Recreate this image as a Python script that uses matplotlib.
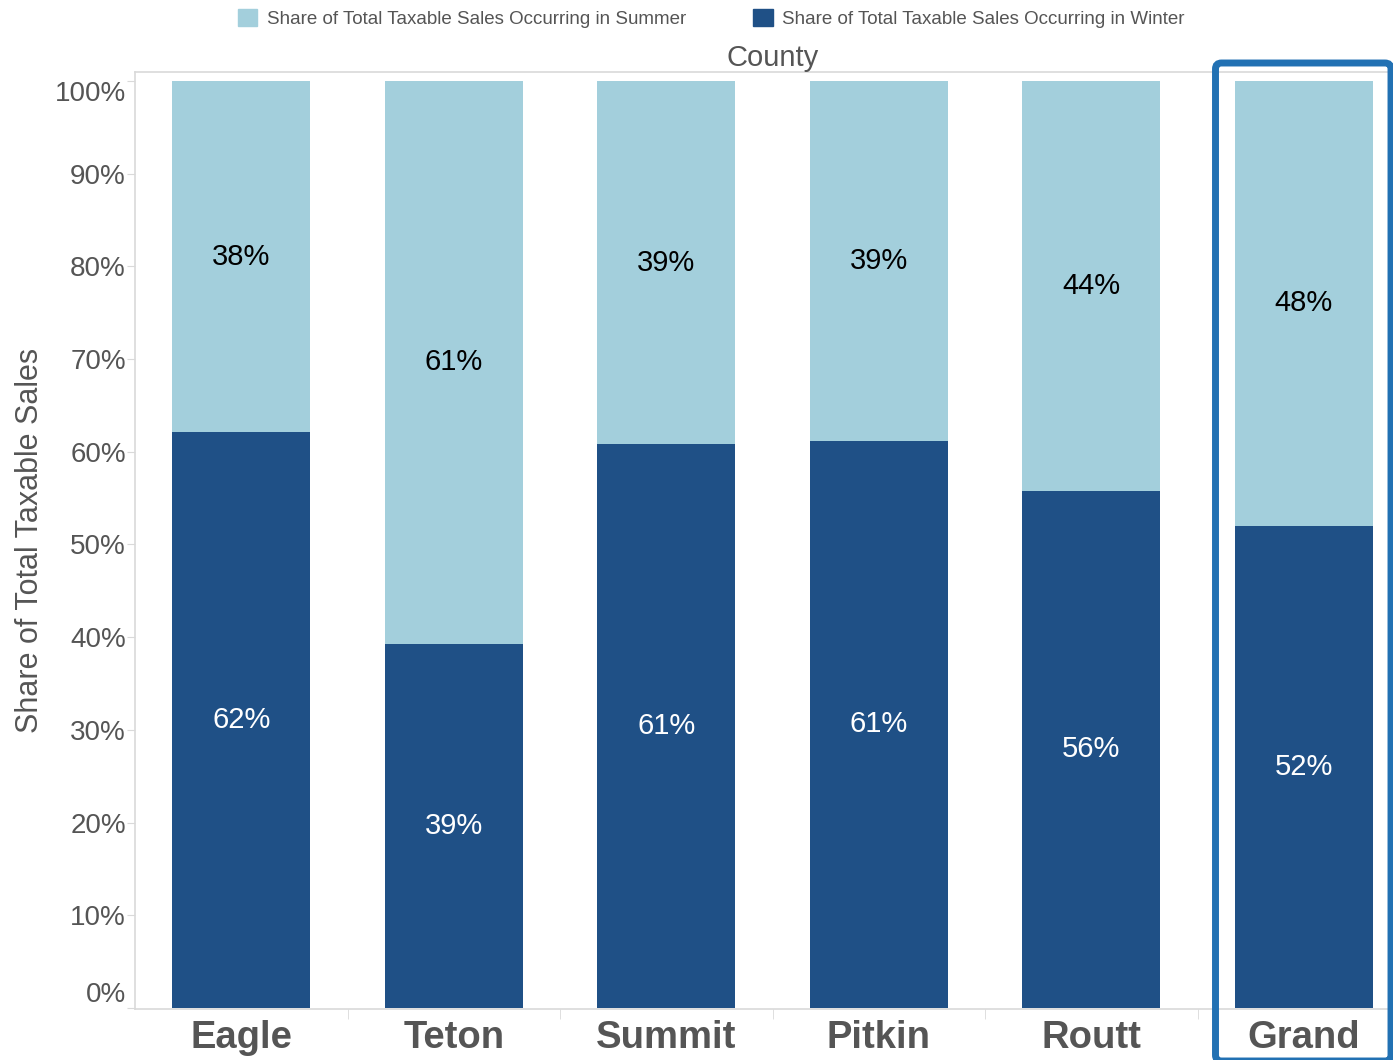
import matplotlib.pyplot as plt
from matplotlib.patches import FancyBboxPatch, Patch

plt.rcParams['font.family'] = ['Liberation Sans', 'DejaVu Sans']

counties = ['Eagle', 'Teton', 'Summit', 'Pitkin', 'Routt', 'Grand']
winter = [62.1, 39.3, 60.8, 61.2, 55.8, 52.0]   # % of taxable sales in winter
summer = [37.9, 60.7, 39.2, 38.8, 44.2, 48.0]   # % of taxable sales in summer
yticks = [0, 10, 20, 30, 40, 50, 60, 70, 80, 90, 100]

light = '#A3CFDC'
dark = '#1F5086'
gray = '#555555'
line = '#D9D9D9'

fig = plt.figure(figsize=(13.93, 10.6), dpi=100)
ax = fig.add_axes([135/1393, 51/1060, 1275/1393, 937/1060])

x = list(range(len(counties)))
ax.bar(x, winter, width=0.65, color=dark)
ax.bar(x, summer, bottom=winter, width=0.65, color=light)

for i in x:
    ax.text(i, winter[i] / 2, f'{round(winter[i])}%', ha='center', va='center',
            fontsize=21, color='white')
    ax.text(i, winter[i] + summer[i] / 2, f'{round(summer[i])}%', ha='center', va='center',
            fontsize=21, color='black')

ax.set_xlim(-0.5, len(counties) - 0.5)
ax.set_ylim(-0.108, 100.97)

ax.set_yticks(yticks, [f'{v}%' for v in yticks])
ax.tick_params(axis='y', length=6, color=line, labelsize=20, labelcolor=gray, pad=0.5)
ylabs = ax.get_yticklabels()
ylabs[0].set_va('bottom')
ylabs[-1].set_va('top')

ax.set_xticks(x, counties)
ax.set_xticks([i + 0.5 for i in x[:-1]], minor=True)
ax.tick_params(axis='x', which='major', length=0, labelsize=27.5, labelcolor=gray, pad=8)
ax.tick_params(axis='x', which='minor', length=7, color=line)
for t in ax.get_xticklabels():
    t.set_fontweight('bold')

for s in ['left', 'bottom', 'top']:
    ax.spines[s].set_color(line)
    ax.spines[s].set_linewidth(1.2)
ax.spines['right'].set_visible(False)

ax.set_ylabel('Share of Total Taxable Sales', fontsize=22, color=gray, labelpad=7)
ax.set_title('County', fontsize=21, color=gray, pad=3)

fig.legend(handles=[Patch(color=light, label='Share of Total Taxable Sales Occurring in Summer'),
                    Patch(color=dark, label='Share of Total Taxable Sales Occurring in Winter')],
           loc='upper left', bbox_to_anchor=(232/1393, 1 - 3/1060), ncol=2, frameon=False,
           fontsize=13.5, labelcolor=gray, handlelength=1.05, handleheight=1.05,
           handletextpad=0.5, columnspacing=3.6, borderaxespad=0, borderpad=0.3)

# highlight box around Grand
box = FancyBboxPatch((12.155, -0.01), 1.755, 9.98, boxstyle='round,pad=0,rounding_size=0.06',
                     transform=fig.dpi_scale_trans, facecolor='none', edgecolor='#2271B3',
                     linewidth=5, clip_on=False)
fig.add_artist(box)

plt.savefig('out.png', dpi=100)
